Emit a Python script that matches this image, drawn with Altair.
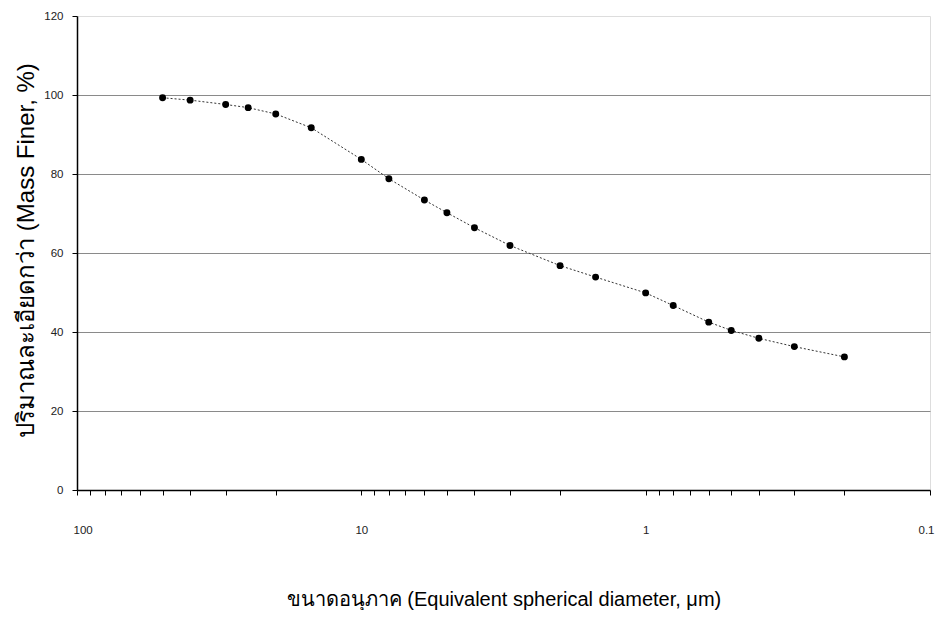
import altair as alt
import pandas as pd

# particle diameter (micrometre) and cumulative mass finer (%)
diameter = [50, 40, 30, 25, 20, 15, 10, 8, 6, 5, 4, 3, 2, 1.5, 1, 0.8, 0.6, 0.5, 0.4, 0.3, 0.2]
mass_finer = [99.3, 98.7, 97.6, 96.8, 95.2, 91.7, 83.7, 78.8, 73.4, 70.2, 66.4, 61.9,
              56.8, 53.9, 49.9, 46.7, 42.5, 40.4, 38.4, 36.3, 33.7]

x_ticks = [0.1, 0.2, 0.3, 0.4, 0.5, 0.6, 0.7, 0.8, 0.9,
           1, 2, 3, 4, 5, 6, 7, 8, 9,
           10, 20, 30, 40, 50, 60, 70, 80, 90, 100]
y_ticks = [0, 20, 40, 60, 80, 100, 120]

df = pd.DataFrame({"d": diameter, "m": mass_finer})

FONT = "Liberation Sans, Arial, Noto Sans, DejaVu Sans, sans-serif"

x_enc = alt.X(
    "d:Q",
    scale=alt.Scale(type="log", domain=[0.1, 100], reverse=True, nice=False),
    axis=alt.Axis(
        title="ขนาดอนุภาค (Equivalent spherical diameter, μm)",
        values=x_ticks,
        format="~g",
        labelExpr="(datum.value == 0.1 || datum.value == 1 || datum.value == 10 || datum.value == 100) ? datum.label : ''",
        labelFlush=True,
        labelFlushOffset=4,
        labelOverlap=False,
        labelPadding=29,
        labelFontSize=11.5,
        labelColor="#222",
        tickSize=5,
        tickColor="#000",
        domainColor="#000",
        domainWidth=1.5,
        grid=False,
        titleFontSize=20,
        titleFontWeight="normal",
        titleColor="#000",
        titleY=115,
        titleBaseline="alphabetic",
    ),
)

y_enc = alt.Y(
    "m:Q",
    scale=alt.Scale(domain=[0, 120], nice=False),
    axis=alt.Axis(
        title="ปริมาณละเอียดกว่า (Mass Finer, %)",
        values=y_ticks,
        labelFontSize=11.5,
        labelColor="#222",
        labelPadding=9,
        tickSize=5,
        tickColor="#000",
        domainColor="#000",
        domainWidth=1.5,
        grid=True,
        gridColor="#8a8a8a",
        gridWidth=1,
        gridOpacity=alt.ConditionalAxisNumber(
            condition={"test": "datum.value == 0 || datum.value == 120", "value": 0},
            value=1,
        ),
        titleFontSize=24,
        titleFontWeight="normal",
        titleColor="#000",
        titleX=-44,
        titleY=234,
        titleBaseline="alphabetic",
    ),
)

line = alt.Chart(df).mark_line(
    color="#333", strokeWidth=1, strokeDash=[2, 2]
).encode(x=x_enc, y=y_enc)

points = alt.Chart(df).mark_circle(
    color="#000", size=48, opacity=1
).encode(x=x_enc, y=y_enc)

chart = (
    alt.layer(line, points)
    .properties(
        width=853,
        height=474,
        autosize=alt.AutoSizeParams(type="none"),
        padding={"left": 69, "top": 8, "right": 6, "bottom": 120},
    )
    .configure_view(stroke="#000", strokeWidth=1.5)
    .configure(font=FONT)
)

chart.save("out.html", embed_options={"renderer": "svg", "actions": False})
